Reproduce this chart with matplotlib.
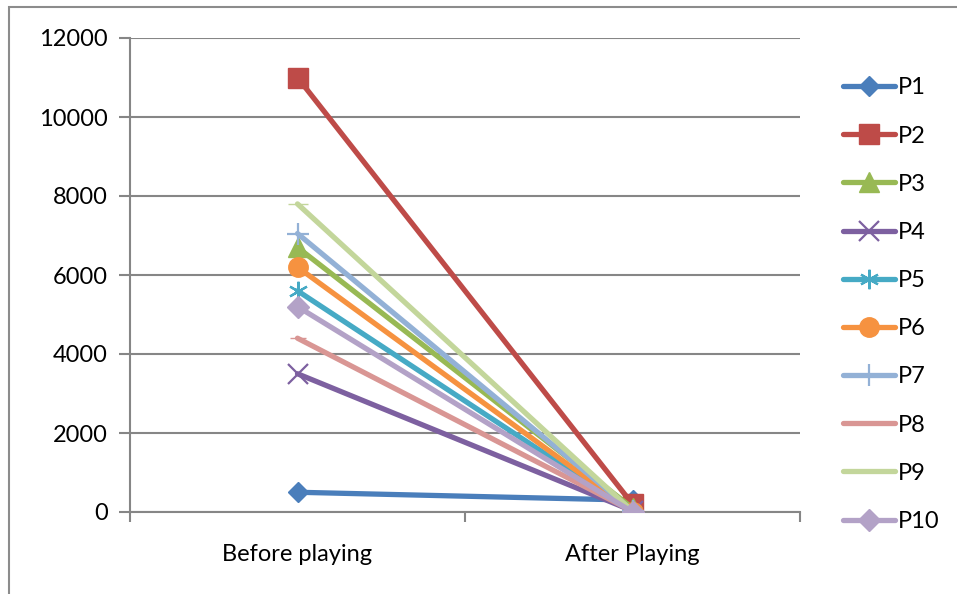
import numpy as np
import matplotlib.pyplot as plt
from matplotlib.patches import Rectangle

plt.rcParams['font.family'] = ['Lato', 'DejaVu Sans']

stages = ['Before playing', 'After Playing']
players = ['P1', 'P2', 'P3', 'P4', 'P5', 'P6', 'P7', 'P8', 'P9', 'P10']
before = [500, 11000, 6700, 3500, 5600, 6200, 7050, 4400, 7800, 5200]
after = [300, 200, 100, 30, 20, 10, 30, 20, 20, 0]
colors = ['#4A7EBB', '#BE4B48', '#98B954', '#7D60A0', '#46AAC5',
          '#F69240', '#93B1D6', '#D99694', '#C3D69B', '#B3A2C7']
markers = ['D', 's', '^', 'x', (6, 2, 0), 'o', '+', '_', '_', 'D']
sizes = [10, 14, 14, 14, 14, 14, 16, 12, 14, 11]

fig = plt.figure(figsize=(9.57, 5.94), dpi=100)
ax = fig.add_axes([130 / 957, 82 / 594, 670 / 957, 474 / 594])

# outer chart frame (partly cut off on right and bottom)
fig.patches.append(Rectangle((9 / 957, -0.1), 1.1, (594 - 7) / 594 + 0.1,
                             transform=fig.transFigure, fill=False,
                             edgecolor='#8c8c8c', linewidth=1.5))

x = np.arange(len(stages))
for i in range(len(players)):
    thin = markers[i] in ('x', '+') or isinstance(markers[i], tuple)
    ax.plot(x, [before[i], after[i]], color=colors[i], linewidth=3.8,
            marker=markers[i], markersize=sizes[i],
            markeredgewidth=1.6 if thin else 1.0,
            markeredgecolor=colors[i], solid_capstyle='round',
            label=players[i], zorder=3)

ax.set_xlim(-0.5, 1.5)
ax.set_ylim(0, 12000)
ax.set_yticks(np.arange(0, 12001, 2000))
ax.set_xticks(x)
ax.set_xticklabels(stages)
ax.set_xticks([-0.5, 0.5, 1.5], minor=True)
ax.tick_params(axis='x', which='major', length=0, pad=23, labelsize=17)
ax.tick_params(axis='x', which='minor', length=7, width=1.5, color='#868686',
               direction='out')
ax.tick_params(axis='y', length=8, width=1.5, color='#868686', pad=8,
               labelsize=17)
ax.grid(axis='y', color='#868686', linewidth=1.5, zorder=0)
for side in ['top', 'right']:
    ax.spines[side].set_visible(False)
for side in ['left', 'bottom']:
    ax.spines[side].set_color('#868686')
    ax.spines[side].set_linewidth(1.5)
ax.set_axisbelow(True)

ax.legend(loc='upper left', bbox_to_anchor=(834 / 957, 1 - 68 / 594),
          bbox_transform=fig.transFigure, frameon=False, fontsize=17,
          handlelength=2.2, handletextpad=0.1, labelspacing=1.15,
          borderaxespad=0)

fig.savefig('out.png', dpi=100)
